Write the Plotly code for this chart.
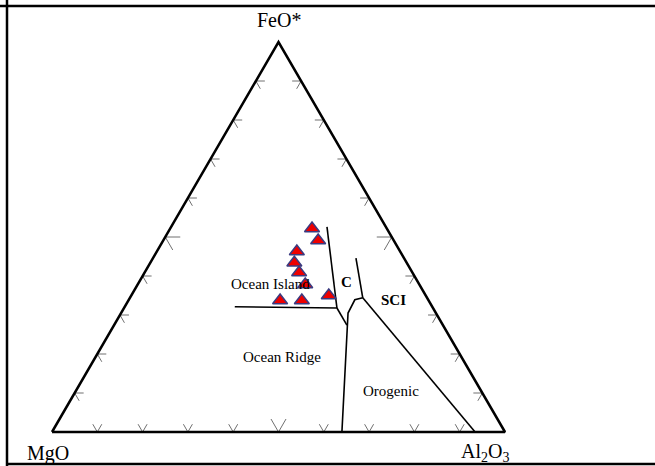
import plotly.graph_objects as go

# Sample compositions (normalised to 100): FeO*, MgO, Al2O3
sample_feo = [52.2, 49.1, 46.3, 43.4, 40.9, 37.8, 33.7, 33.7, 35.0]
sample_mgo = [16.5, 16.7, 22.8, 24.8, 25.0, 25.2, 32.8, 28.0, 21.4]
sample_al2o3 = [31.3, 34.2, 30.9, 31.8, 34.1, 37.0, 33.5, 38.3, 43.6]

# Tectonic field boundaries, each as (FeO*, MgO, Al2O3) vertices
boundary_island_base = [(32.1, 43.6, 24.3), (31.8, 21.2, 47.0)]
boundary_island_c = [(52.6, 13.0, 34.4), (31.8, 21.2, 47.0)]
boundary_island_step = [(31.8, 21.2, 47.0), (27.4, 21.2, 51.4)]
boundary_ridge_orogenic = [(0.0, 36.0, 64.0), (30.5, 19.4, 50.1),
                           (33.9, 16.2, 49.9), (34.4, 14.2, 51.4)]
boundary_c_sci = [(44.6, 10.6, 44.8), (34.4, 14.2, 51.4)]
boundary_sci_orogenic = [(34.4, 14.2, 51.4), (0.0, 6.6, 93.4)]
boundaries = [boundary_island_base, boundary_island_c, boundary_island_step,
              boundary_ridge_orogenic, boundary_c_sci, boundary_sci_orogenic]

tick_fractions = [0.1, 0.2, 0.3, 0.4, 0.5, 0.6, 0.7, 0.8, 0.9]

# pixel size of one data unit on each axis (triangle base / height)
PX_X, PX_Y = 453.0, 390.0


def to_xy(feo, mgo, al):
    s = feo + mgo + al
    return al / s + 0.5 * feo / s, feo / s


fig = go.Figure()

# chevron tick marks pointing into the triangle along the grid directions
tx, ty = [], []
edges = [
    ((0.0, 0.0), (1.0, 0.0), [(-0.5, 0.866), (0.5, 0.866)]),     # MgO -> Al2O3
    ((0.0, 0.0), (0.5, 1.0), [(1.0, 0.0), (0.5, -0.866)]),       # MgO -> FeO*
    ((1.0, 0.0), (0.5, 1.0), [(-1.0, 0.0), (-0.5, -0.866)]),     # Al2O3 -> FeO*
]
for (x0, y0), (x1, y1), arms in edges:
    for f in tick_fractions:
        px = x0 + (x1 - x0) * f
        py = y0 + (y1 - y0) * f
        length = 15 if abs(f - 0.5) < 1e-9 else 9
        (ax, ay), (bx, by) = arms
        tx += [px + ax * length / PX_X, px, px + bx * length / PX_X, None]
        ty += [py + ay * length / PX_Y, py, py + by * length / PX_Y, None]
fig.add_trace(go.Scatter(x=tx, y=ty, mode="lines",
                         line=dict(color="#707070", width=1),
                         hoverinfo="skip", showlegend=False))

# triangle outline
fig.add_trace(go.Scatter(x=[0, 1, 0.5, 0], y=[0, 0, 1, 0], mode="lines",
                         line=dict(color="black", width=2.5),
                         hoverinfo="skip", showlegend=False))

# field boundaries
for seg in boundaries:
    xs, ys = zip(*[to_xy(*p) for p in seg])
    fig.add_trace(go.Scatter(x=list(xs), y=list(ys), mode="lines",
                             line=dict(color="black", width=1.6),
                             hoverinfo="skip", showlegend=False))

# samples
sx, sy = zip(*[to_xy(f, m, a) for f, m, a in zip(sample_feo, sample_mgo, sample_al2o3)])
fig.add_trace(go.Scatter(x=list(sx), y=list(sy), mode="markers",
                         marker=dict(symbol="triangle-up", size=13, color="#ee0000",
                                     line=dict(color="#3b3b80", width=1.5)),
                         showlegend=False))

serif = "Liberation Serif"
labels = [
    ("FeO*", 0.5, 1.057, 20, False),
    ("MgO", -0.008, -0.056, 20, False),
    ("Al<sub>2</sub>O<sub>3</sub>", 0.956, -0.053, 20, False),
    ("Ocean Island", 0.4834, 0.380, 15, False),
    ("C", 0.6512, 0.385, 15, True),
    ("SCI", 0.7528, 0.338, 15, True),
    ("Ocean Ridge", 0.5077, 0.193, 15, False),
    ("Orogenic", 0.7483, 0.105, 15, False),
]
for text, x, y, size, bold in labels:
    fig.add_annotation(x=x, y=y, text=f"<b>{text}</b>" if bold else text,
                       showarrow=False, xanchor="center", yanchor="middle",
                       font=dict(family=serif, size=size, color="black"))

# surrounding frame lines
frame = dict(type="line", xref="paper", yref="paper", line=dict(color="black", width=2.5))
fig.add_shape(**frame, x0=0, x1=1, y0=1 - 6 / 466, y1=1 - 6 / 466)
fig.add_shape(**frame, x0=7 / 655, x1=7 / 655, y0=0, y1=1)
fig.add_shape(**frame, x0=7 / 655, x1=1, y0=2 / 466, y1=2 / 466)

fig.update_xaxes(range=[-52 / PX_X, 603 / PX_X], visible=False, fixedrange=True)
fig.update_yaxes(range=[-34 / PX_Y, 432 / PX_Y], visible=False, fixedrange=True)
fig.update_layout(width=655, height=466, autosize=False,
                  margin=dict(l=0, r=0, t=0, b=0),
                  plot_bgcolor="white", paper_bgcolor="white")

fig.write_html("out.html")
